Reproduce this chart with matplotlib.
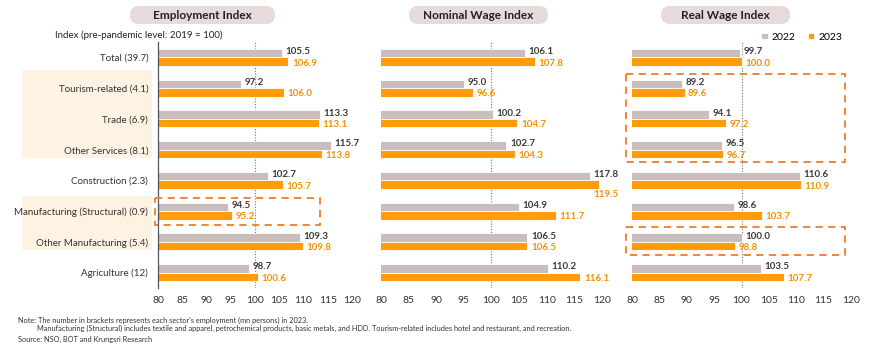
import matplotlib.pyplot as plt
from matplotlib.patches import Rectangle, FancyBboxPatch

plt.rcParams['font.family'] = ['Lato', 'DejaVu Sans']

sectors = ['Total (39.7)', 'Tourism-related (4.1)', 'Trade (6.9)', 'Other Services (8.1)',
           'Construction (2.3)', 'Manufacturing (Structural) (0.9)',
           'Other Manufacturing (5.4)', 'Agriculture (12)']
titles = ['Employment Index', 'Nominal Wage Index', 'Real Wage Index']

emp_2022 = [105.5, 97.2, 113.3, 115.7, 102.7, 94.5, 109.3, 98.7]
emp_2023 = [106.9, 106.0, 113.1, 113.8, 105.7, 95.2, 109.8, 100.6]
nom_2022 = [106.1, 95.0, 100.2, 102.7, 117.8, 104.9, 106.5, 110.2]
nom_2023 = [107.8, 96.6, 104.7, 104.3, 119.5, 111.7, 106.5, 116.1]
real_2022 = [99.7, 89.2, 94.1, 96.5, 110.6, 98.6, 100.0, 103.5]
real_2023 = [100.0, 89.6, 97.2, 96.7, 110.9, 103.7, 98.8, 107.7]

panels = [(emp_2022, emp_2023), (nom_2022, nom_2023), (real_2022, real_2023)]

GRAY = '#c9bdbd'
ORANGE = '#fe9c0c'
GRAY_TXT = '#3a3a3a'
ORANGE_TXT = '#f39200'
BOX_ORANGE = '#f37a2a'

W, H = 870, 354
fig = plt.figure(figsize=(8.7, 3.54), dpi=100)

# pixel-based helper axes behind the charts
bg = fig.add_axes([0, 0, 1, 1], zorder=0)
bg.set_xlim(0, W)
bg.set_ylim(H, 0)
bg.axis('off')

for y0, y1 in [(70, 158), (196, 250)]:
    bg.add_patch(Rectangle((22, y0), 130, y1 - y0, facecolor='#fef3e2', edgecolor='none'))

title_boxes = [(120, 285), (399, 558), (651, 800)]
for (x0, x1), t in zip(title_boxes, titles):
    bg.add_patch(FancyBboxPatch((x0 + 10, 6), x1 - x0 - 20, 18,
                                boxstyle='round,pad=0,rounding_size=9',
                                facecolor='#e6dada', edgecolor='none'))
    bg.text((x0 + x1) / 2, 15.5, t, ha='center', va='center', fontsize=8.5,
            fontweight='bold', color='#222222')

bg.text(55, 35, 'Index (pre-pandemic level: 2019 = 100)', fontsize=7,
        va='center', color='#222222')

bg.text(18, 320, "Note: The number in brackets represents each sector's employment (mn persons) in 2023.",
        fontsize=5.3, va='center', color='#333333')
bg.text(37, 328, 'Manufacturing (Structural) includes textile and apparel, petrochemical products, '
        'basic metals, and HDD. Tourism-related includes hotel and restaurant, and recreation.',
        fontsize=5.3, va='center', color='#333333')
bg.text(18, 339, 'Source: NSO, BOT and Krungsri Research', fontsize=5.3, va='center', color='#333333')

axes_px = [(158, 194), (381, 221), (632, 219)]
top_px, bot_px = 42, 288
rows = list(range(len(sectors)))
bh = 0.28

axs = []
for i, ((x0, w), (v22, v23)) in enumerate(zip(axes_px, panels)):
    ax = fig.add_axes([x0 / W, 1 - bot_px / H, w / W, (bot_px - top_px) / H], zorder=2)
    ax.patch.set_alpha(0)
    ax.barh([r - bh / 2 for r in rows], v22, height=bh, color=GRAY,
            edgecolor='white', linewidth=0.6, label='2022', zorder=2)
    ax.barh([r + bh / 2 for r in rows], v23, height=bh, color=ORANGE,
            edgecolor='white', linewidth=0.6, label='2023', zorder=2)
    ax.set_xlim(80, 120)
    ax.set_ylim(7.5, -0.5)
    ax.axvline(100, color='#777777', linestyle=(0, (1, 1.5)), linewidth=0.8, zorder=1)
    for r, a, b in zip(rows, v22, v23):
        ax.annotate(f'{a:.1f}', (a, r - bh / 2 - 0.05), xytext=(2.5, 0), textcoords='offset points',
                    ha='left', va='center', fontsize=7, fontweight='bold', color=GRAY_TXT,
                    annotation_clip=False, zorder=4)
        if b > 118.5:
            ax.annotate(f'{b:.1f}', (a, r + bh / 2 + 0.32), xytext=(2.5, 0), textcoords='offset points',
                        ha='left', va='center', fontsize=7, fontweight='bold', color=ORANGE_TXT,
                        annotation_clip=False, zorder=4)
        else:
            ax.annotate(f'{b:.1f}', (b, r + bh / 2 + 0.05), xytext=(2.5, 0), textcoords='offset points',
                        ha='left', va='center', fontsize=7, fontweight='bold', color=ORANGE_TXT,
                        annotation_clip=False, zorder=4)
    ax.set_xticks(range(80, 121, 5))
    ax.tick_params(axis='x', length=0, labelsize=7.5, colors='#333333', pad=6)
    for s in ['top', 'right', 'bottom']:
        ax.spines[s].set_visible(False)
    if i == 0:
        ax.spines['left'].set_color('#555555')
        ax.spines['left'].set_linewidth(0.9)
        ax.set_yticks(rows)
        ax.set_yticklabels(sectors)
        ax.tick_params(axis='y', length=0, labelsize=7, colors='#333333', pad=7)
    else:
        ax.spines['left'].set_visible(False)
        ax.set_yticks([])
    axs.append(ax)

# dashed highlight boxes
def dashed_box(ax, x0, x1, y0, y1):
    ax.add_patch(Rectangle((x0, y0), x1 - x0, y1 - y0, fill=False, edgecolor=BOX_ORANGE,
                           linestyle=(0, (4, 3)), linewidth=1.3, clip_on=False, zorder=5))

dashed_box(axs[0], 79.4, 113.4, 4.56, 5.44)
dashed_box(axs[2], 78.9, 118.9, 0.55, 3.4)
dashed_box(axs[2], 78.9, 118.9, 5.53, 6.44)

axs[2].legend(loc='lower right', bbox_to_anchor=(0.98, 0.985), ncol=2, frameon=False,
              fontsize=7.5, handlelength=0.6, handleheight=0.6, handletextpad=0.4,
              columnspacing=1.2, borderaxespad=0)

fig.savefig('out.png', dpi=100)
